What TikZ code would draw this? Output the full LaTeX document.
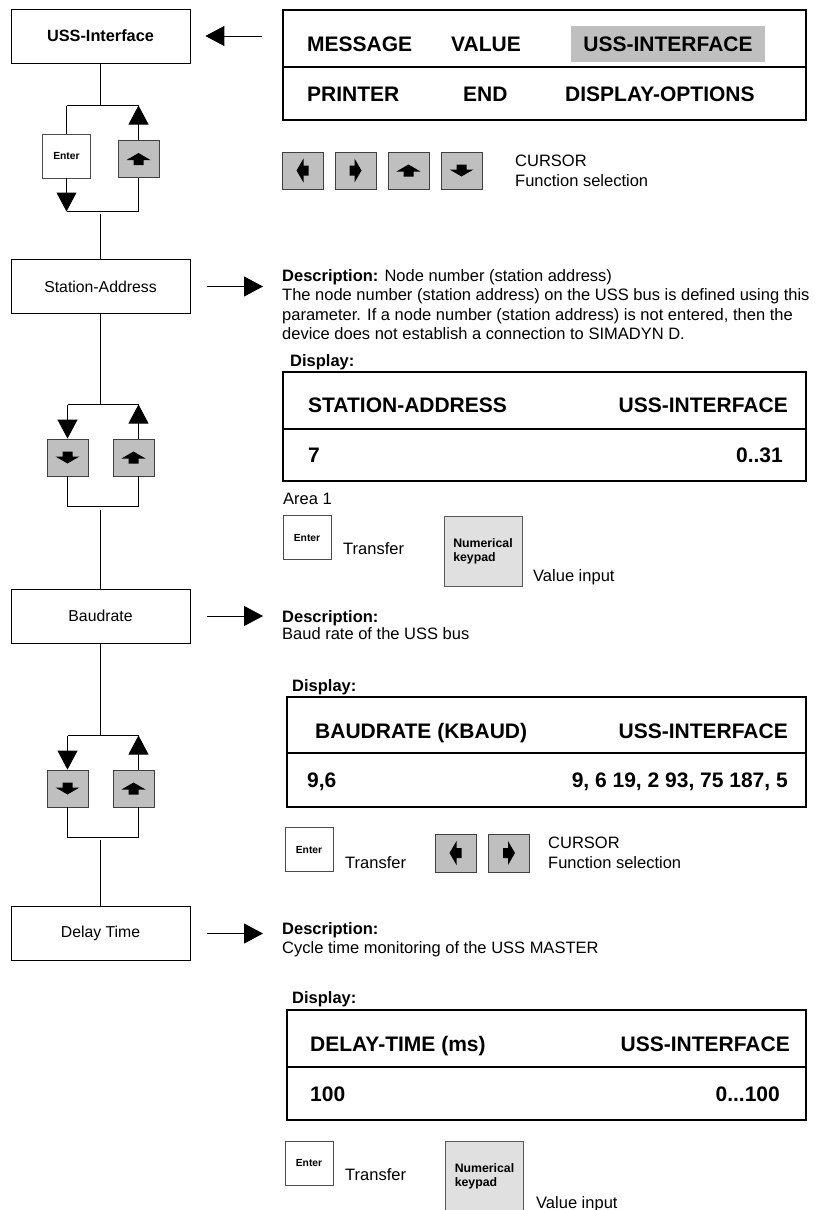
\documentclass[tikz,border=0pt]{standalone}
\usepackage{fontspec}
\setmainfont{Liberation Sans}
\usetikzlibrary{arrows.meta,calc}
\tikzset{
  step-box/.style={draw,line width=0.8pt,minimum width=179pt,minimum height=54pt,inner sep=0pt,font=\fontsize{15.8}{18}\selectfont},
  menu-box/.style={draw,line width=1.2pt,minimum width=523pt,minimum height=110pt,inner sep=0pt},
  disp-box/.style={draw,line width=1.2pt,minimum width=519pt,minimum height=110pt,inner sep=0pt},
  disp-rule/.style={line width=1.4pt},
  disp-txt/.style={inner sep=0pt,font=\fontsize{21}{25}\selectfont\bfseries},
  body/.style={inner sep=0pt,align=left,font=\fontsize{16.5}{19.5}\selectfont},
  body-b/.style={inner sep=0pt,font=\fontsize{16.5}{19.5}\selectfont\bfseries},
  key-w/.style={draw=black!70,fill=white,line width=0.8pt,minimum width=48pt,minimum height=44pt,inner sep=0pt,font=\fontsize{10.3}{12}\selectfont\bfseries},
  key-g/.style={draw=black!75,fill=black!25,line width=0.8pt,minimum width=41pt,minimum height=37pt,inner sep=0pt},
  key-n/.style={draw=black!65,fill=black!12,line width=0.8pt,minimum width=78pt,minimum height=70pt,inner sep=0pt,align=left,font=\fontsize{12.3}{14}\selectfont\bfseries},
  wire/.style={line width=1pt},
  tri/.style={-{Triangle[length=19pt,width=20pt]},line width=1pt},
  key-arrow/.pic={\fill (-12,1) -- (0,-6) -- (12,1) -- (5,1) -- (5,6) -- (-5,6) -- (-5,1) -- cycle;},
}

\begin{document}
\begin{tikzpicture}[x=1pt,y=-1pt]
  \useasboundingbox (0,0) rectangle (822,1210);

  % LEFT COLUMN: menu steps
  \node[step-box,font=\fontsize{16.3}{18}\selectfont\bfseries] (uss) at (100.5,36) {USS-Interface};
  \node[step-box] (stn)  at (100.5,286.5) {Station-Address};
  \node[step-box] (baud) at (100.5,616)   {Baudrate};
  \node[step-box] (dly)  at (100.5,933.5) {Delay Time};

  % loop 1: Enter / up
  \coordinate (j1t)  at (100.5,105.5);
  \coordinate (j1l)  at (66.5,105.5);
  \coordinate (j1r)  at (138.5,105.5);
  \coordinate (j1bl) at (66.5,211.5);
  \coordinate (j1br) at (138.5,211.5);
  \coordinate (j1b)  at (100.5,214);
  \node[key-w] (ent1) at (66.5,156)  {Enter};
  \node[key-g] (up1)  at (138.5,159) {};
  \pic at (up1) {key-arrow};
  \draw[wire] (uss) -- (j1t);
  \draw[wire] (j1l) -- (j1r);
  \draw[wire] (j1l) -- (ent1);
  \draw[tri]  (ent1) -- (j1bl);
  \draw[wire] (j1bl) -- (j1br);
  \draw[tri]  (up1) -- (j1r);
  \draw[wire] (up1) -- (j1br);
  \draw[wire] (j1b) -- (stn);

  % loop 2: down / up
  \coordinate (j2t)  at (100.5,404.5);
  \coordinate (j2l)  at (67.5,404.5);
  \coordinate (j2r)  at (138.5,404.5);
  \coordinate (j2bl) at (67.5,506.5);
  \coordinate (j2br) at (138.5,506.5);
  \coordinate (j2b)  at (100.5,510);
  \node[key-g] (dn2) at (67.5,457.5)  {};
  \node[key-g] (up2) at (133.5,457.5) {};
  \pic[rotate=180] at (dn2) {key-arrow};
  \pic at (up2) {key-arrow};
  \draw[wire] (stn) -- (j2t);
  \draw[wire] (j2l) -- (j2r);
  \draw[tri]  (j2l) -- (dn2);
  \draw[tri]  (up2.north -| j2r) -- (j2r);
  \draw[wire] (dn2) -- (j2bl);
  \draw[wire] (up2.south -| j2r) -- (j2br);
  \draw[wire] (j2bl) -- (j2br);
  \draw[wire] (j2b) -- (baud);

  % loop 3: down / up
  \coordinate (j3t)  at (100.5,735.5);
  \coordinate (j3l)  at (67.5,735.5);
  \coordinate (j3r)  at (138.5,735.5);
  \coordinate (j3bl) at (67.5,837.5);
  \coordinate (j3br) at (138.5,837.5);
  \coordinate (j3b)  at (100.5,840);
  \node[key-g] (dn3) at (67.5,788.5)  {};
  \node[key-g] (up3) at (133.5,788.5) {};
  \pic[rotate=180] at (dn3) {key-arrow};
  \pic at (up3) {key-arrow};
  \draw[wire] (baud) -- (j3t);
  \draw[wire] (j3l) -- (j3r);
  \draw[tri]  (j3l) -- (dn3);
  \draw[tri]  (up3.north -| j3r) -- (j3r);
  \draw[wire] (dn3) -- (j3bl);
  \draw[wire] (up3.south -| j3r) -- (j3br);
  \draw[wire] (j3bl) -- (j3br);
  \draw[wire] (j3b) -- (dly);

  % PANEL 1: main menu
  \node[menu-box] (menu) at (544.5,65) {};
  \draw[disp-rule] (menu.west |- 0,67) -- (menu.east |- 0,67);
  \node[disp-txt,anchor=base west] (mmsg)  at (307,51)    {MESSAGE};
  \node[disp-txt,anchor=base west] (mval)  at (451,51)    {VALUE};
  \node[disp-txt,fill=black!25,minimum width=194pt,minimum height=36pt] (muss) at (668,44) {USS-INTERFACE};
  \node[disp-txt,anchor=base west] (mprn)  at (307,101.5) {PRINTER};
  \node[disp-txt,anchor=base west] (mend)  at (463,101.5) {END};
  \node[disp-txt,anchor=base west] (mopt)  at (565,101.5) {DISPLAY-OPTIONS};
  \draw[tri,shorten <=20pt,shorten >=15pt] (menu.west |- uss) -- (uss);

  \node[key-g] (kl1) at (302.5,170.5) {};
  \node[key-g] (kr1) at (355.5,170.5) {};
  \node[key-g] (ku1) at (408.5,170.5) {};
  \node[key-g] (kd1) at (461.5,170.5) {};
  \pic[rotate=90]  at (kl1) {key-arrow};
  \pic[rotate=-90] at (kr1) {key-arrow};
  \pic             at (ku1) {key-arrow};
  \pic[rotate=180] at (kd1) {key-arrow};
  \node[body,anchor=north west,font=\fontsize{16.5}{20.5}\selectfont] (cur1) at (515,154.5) {CURSOR\\Function selection};

  % PANEL 2: station address
  \node[body,anchor=north west] (sdesc) at (282,269) {\textbf{Description:} Node number (station address)\\The node number (station address) on the USS bus is defined using this\\parameter. If a node number (station address) is not entered, then the\\device does not establish a connection to SIMADYN D.};
  \draw[tri,shorten <=17pt,shorten >=19pt] (stn.east) -- (stn.east -| sdesc.west);
  \node[body-b,anchor=base west] (sdisp) at (290,366) {Display:};
  \node[disp-box,minimum width=523pt,minimum height=109pt] (sbox) at (544.5,426.5) {};
  \draw[disp-rule] (sbox.west |- 0,429) -- (sbox.east |- 0,429);
  \node[disp-txt,anchor=base west] (sname) at (308,412.5) {STATION-ADDRESS};
  \node[disp-txt,anchor=base east] (sif)   at (788,412.5) {USS-INTERFACE};
  \node[disp-txt,anchor=base west] (sval)  at (308,462.5) {7};
  \node[disp-txt,anchor=base east] (srng)  at (783,462.5) {0..31};
  \node[body,anchor=base west] (sarea) at (283,504) {Area 1};
  \node[key-w] (sent) at (307,537.5) {Enter};
  \node[body,anchor=base west] (strf) at (343,554) {Transfer};
  \node[key-n] (snum) at (483,551) {Numerical\\keypad};
  \node[body,anchor=base west] (sinp) at (533,581) {Value input};

  % PANEL 3: baud rate
  \node[body,anchor=north west,font=\fontsize{16.5}{17.5}\selectfont] (bdesc) at (282,610) {\textbf{Description:}\\Baud rate of the USS bus};
  \draw[tri,shorten <=17pt,shorten >=19pt] (baud.east) -- (baud.east -| bdesc.west);
  \node[body-b,anchor=base west] (bdisp) at (292,691) {Display:};
  \node[disp-box] (bbox) at (546.5,752) {};
  \draw[disp-rule] (bbox.west |- 0,753) -- (bbox.east |- 0,753);
  \node[disp-txt,anchor=base west] (bname) at (315,738.5) {BAUDRATE (KBAUD)};
  \node[disp-txt,anchor=base east] (bif)   at (788,738.5) {USS-INTERFACE};
  \node[disp-txt,anchor=base west] (bval)  at (307,787.5) {9,6};
  \node[disp-txt,anchor=base east] (brng)  at (788,787.5) {9, 6 19, 2 93, 75 187, 5};
  \node[key-w] (bent) at (309,849.5) {Enter};
  \node[body,anchor=base west] (btrf) at (345,868) {Transfer};
  \node[key-g,minimum height=38pt] (kl2) at (455.5,853) {};
  \node[key-g,minimum height=38pt] (kr2) at (509,853)   {};
  \pic[rotate=90]  at (kl2) {key-arrow};
  \pic[rotate=-90] at (kr2) {key-arrow};
  \node[body,anchor=north west,font=\fontsize{16.5}{20.5}\selectfont] (cur2) at (548,836.5) {CURSOR\\Function selection};

  % PANEL 4: delay time
  \node[body,anchor=north west,font=\fontsize{16.5}{19}\selectfont] (ddesc) at (282,922) {\textbf{Description:}\\Cycle time monitoring of the USS MASTER};
  \draw[tri,shorten <=17pt,shorten >=19pt] (dly.east) -- (dly.east -| ddesc.west);
  \node[body-b,anchor=base west] (ddisp) at (292,1003) {Display:};
  \node[disp-box] (dbox) at (546.5,1065) {};
  \draw[disp-rule] (dbox.west |- 0,1067) -- (dbox.east |- 0,1067);
  \node[disp-txt,anchor=base west] (dname) at (310,1051.5) {DELAY-TIME (ms)};
  \node[disp-txt,anchor=base east] (dif)   at (790,1051.5) {USS-INTERFACE};
  \node[disp-txt,anchor=base west] (dval)  at (310,1101.5) {100};
  \node[disp-txt,anchor=base east] (drng)  at (780,1101.5) {0...100};
  \node[key-w] (dent) at (309,1163) {Enter};
  \node[body,anchor=base west] (dtrf) at (345,1180) {Transfer};
  \node[key-n] (dnum) at (484.5,1176) {Numerical\\keypad};
  \node[body,anchor=base west] (dinp) at (536,1208) {Value input};

\end{tikzpicture}
\end{document}
